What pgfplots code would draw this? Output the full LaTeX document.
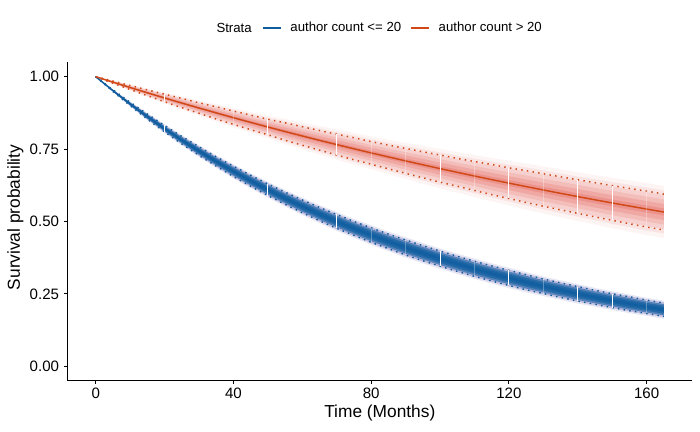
\documentclass[border=0pt]{standalone}
\usepackage{fontspec}
\setmainfont{Liberation Sans}
\usepackage{pgfplots}
\pgfplotsset{compat=1.18}
\usepackage{pgfplotstable}
\usepgfplotslibrary{fillbetween}
\definecolor{cb}{RGB}{16,94,160}
\definecolor{cbl}{RGB}{105,100,178}
\definecolor{cr}{RGB}{208,72,22}
\definecolor{crf}{RGB}{222,72,62}

\pgfplotstableread{
t s h
0 1.0000 0.000
5 0.9517 0.003
10 0.9057 0.006
15 0.8620 0.009
20 0.8204 0.011
25 0.7807 0.013
30 0.7430 0.015
35 0.7071 0.016
40 0.6730 0.018
45 0.6405 0.019
50 0.6096 0.020
55 0.5801 0.021
60 0.5521 0.022
65 0.5254 0.023
70 0.5000 0.024
75 0.4759 0.024
80 0.4529 0.025
85 0.4311 0.025
90 0.4102 0.026
95 0.3904 0.026
100 0.3716 0.026
105 0.3536 0.026
110 0.3365 0.026
115 0.3203 0.026
120 0.3048 0.026
125 0.2901 0.026
130 0.2761 0.025
135 0.2628 0.025
140 0.2501 0.025
145 0.2380 0.024
150 0.2265 0.024
155 0.2156 0.024
160 0.2051 0.023
165 0.1952 0.023
}\tabB

\pgfplotstableread{
t s h
0 1.0000 0.000
5 0.9811 0.004
10 0.9625 0.007
15 0.9443 0.010
20 0.9264 0.013
25 0.9089 0.016
30 0.8917 0.018
35 0.8749 0.021
40 0.8583 0.023
45 0.8421 0.025
50 0.8261 0.027
55 0.8105 0.030
60 0.7952 0.032
65 0.7801 0.034
70 0.7654 0.036
75 0.7509 0.038
80 0.7367 0.039
85 0.7228 0.041
90 0.7091 0.043
95 0.6957 0.045
100 0.6825 0.047
105 0.6696 0.048
110 0.6569 0.050
115 0.6445 0.052
120 0.6323 0.053
125 0.6204 0.055
130 0.6086 0.056
135 0.5971 0.057
140 0.5858 0.058
145 0.5747 0.059
150 0.5638 0.060
155 0.5532 0.061
160 0.5427 0.062
165 0.5325 0.062
}\tabR

% censoring marks (bright)
\pgfplotstableread{
t s h
20 0.8204 0.011
50 0.6096 0.020
70 0.5000 0.024
100 0.3716 0.026
120 0.3048 0.026
140 0.2501 0.025
150 0.2265 0.024
}\cenB
\pgfplotstableread{
t s h
80 0.4529 0.025
90 0.4102 0.026
110 0.3365 0.026
130 0.2761 0.025
160 0.2051 0.023
}\cenBf
\pgfplotstableread{
t s h
20 0.9264 0.013
50 0.8261 0.027
70 0.7654 0.036
100 0.6825 0.047
120 0.6323 0.053
140 0.5858 0.058
150 0.5638 0.060
}\cenR
\pgfplotstableread{
t s h
40 0.8583 0.023
80 0.7367 0.039
90 0.7091 0.043
110 0.6569 0.050
130 0.6086 0.056
160 0.5427 0.062
}\cenRf

\newcommand{\band}[5]{%
 \addplot[draw=none, forget plot, name path=u#2] table[x=t, y expr=\thisrow{s}+#3*\thisrow{h}] {#1};
 \addplot[draw=none, forget plot, name path=l#2] table[x=t, y expr=\thisrow{s}-#3*\thisrow{h}] {#1};
 \addplot[fill=#4, fill opacity=#5, draw=none, forget plot] fill between[of=u#2 and l#2];
}

\begin{document}
\begin{tikzpicture}
\begin{axis}[
  at={(50.475pt,38.475pt)}, anchor=south west,
  scale only axis, width=468.75pt, height=238.875pt,
  xmin=-8.25, xmax=173.25, ymin=-0.05, ymax=1.05,
  axis x line*=bottom, axis y line*=left,
  axis line style={black, line width=0.9pt},
  xtick={0,40,80,120,160},
  ytick={0,0.25,0.5,0.75,1},
  tick align=outside, major tick length=2.25pt,
  tick style={black, line width=0.8pt},
  /pgf/number format/assume math mode=true,
  ticklabel style={font=\fontsize{11.3}{13}\selectfont, text=black},
  yticklabel style={/pgf/number format/.cd, fixed, fixed zerofill, precision=2, /tikz/.cd, inner sep=0pt, anchor=east, xshift=-3.75pt},
  xticklabel style={inner sep=0pt, anchor=north, yshift=-2.7pt},
  xlabel={Time (Months)},
  ylabel={Survival probability},
  label style={font=\fontsize{13}{15}\selectfont},
  xlabel style={at={(axis description cs:0.5,0)}, anchor=north, inner sep=0pt, yshift=-18pt},
  ylabel style={at={(axis description cs:0,0.5)}, anchor=center, inner sep=0pt, yshift=39pt, xshift=3pt},
  legend columns=-1,
  legend style={at={(axis description cs:0.3115,1.1074)}, anchor=west, draw=none, fill=none,
    inner sep=0pt, outer sep=0pt, font=\fontsize{9.9}{11}\selectfont,
    nodes={inner sep=0pt}, column sep=6.75pt},
  legend image code/.code={\draw[#1, line width=1.1pt] (0pt,0pt) -- (13.5pt,0pt);},
]
% red fan
\band{\tabR}{ra}{1.45}{crf}{0.06}
\band{\tabR}{rb}{1.2}{crf}{0.09}
\band{\tabR}{rc}{0.95}{crf}{0.12}
\band{\tabR}{rd}{0.7}{crf}{0.15}
\band{\tabR}{re}{0.45}{crf}{0.18}
\band{\tabR}{rf}{0.2}{crf}{0.22}
% blue fan
\band{\tabB}{ba}{1.35}{cbl}{0.16}
\band{\tabB}{bb}{1.1}{cbl}{0.32}
\band{\tabB}{bc}{0.85}{cb}{0.6}
\band{\tabB}{bd}{0.6}{cb}{0.65}
\band{\tabB}{be}{0.35}{cb}{0.65}
% dotted confidence limits
\addplot[cr, line width=1.1pt, dash pattern=on 1.1pt off 3.2pt, forget plot] table[x=t, y expr=\thisrow{s}+\thisrow{h}] {\tabR};
\addplot[cr, line width=1.1pt, dash pattern=on 1.1pt off 3.2pt, forget plot] table[x=t, y expr=\thisrow{s}-\thisrow{h}] {\tabR};
\addplot[cb, line width=1.1pt, dash pattern=on 1.1pt off 3.2pt, forget plot] table[x=t, y expr=\thisrow{s}+\thisrow{h}] {\tabB};
\addplot[cb, line width=1.1pt, dash pattern=on 1.1pt off 3.2pt, forget plot] table[x=t, y expr=\thisrow{s}-\thisrow{h}] {\tabB};
% main curves
\addplot[cb, line width=1.1pt] table[x=t, y=s] {\tabB};
\addlegendentry{author count <= 20}
\addplot[cr, line width=1.1pt] table[x=t, y=s] {\tabR};
\addlegendentry{author count > 20}
% censor marks
\addplot[draw=none, mark=none, forget plot, error bars/.cd, y dir=both, y explicit, error mark=none, error bar style={white, line width=0.8pt}] table[x=t, y=s, y error=h] {\cenB};
\addplot[draw=none, mark=none, forget plot, error bars/.cd, y dir=both, y explicit, error mark=none, error bar style={white, opacity=0.3, line width=0.6pt}] table[x=t, y=s, y error=h] {\cenBf};
\addplot[draw=none, mark=none, forget plot, error bars/.cd, y dir=both, y explicit, error mark=none, error bar style={white, line width=0.8pt}] table[x=t, y=s, y error=h] {\cenR};
\addplot[draw=none, mark=none, forget plot, error bars/.cd, y dir=both, y explicit, error mark=none, error bar style={white, opacity=0.3, line width=0.6pt}] table[x=t, y=s, y error=h] {\cenRf};
\end{axis}
\node[anchor=east, inner sep=0pt, font=\fontsize{9.9}{11}\selectfont] at (189pt,303pt) {Strata};
\path (0,0) rectangle (525pt,324pt);
\end{tikzpicture}
\end{document}
